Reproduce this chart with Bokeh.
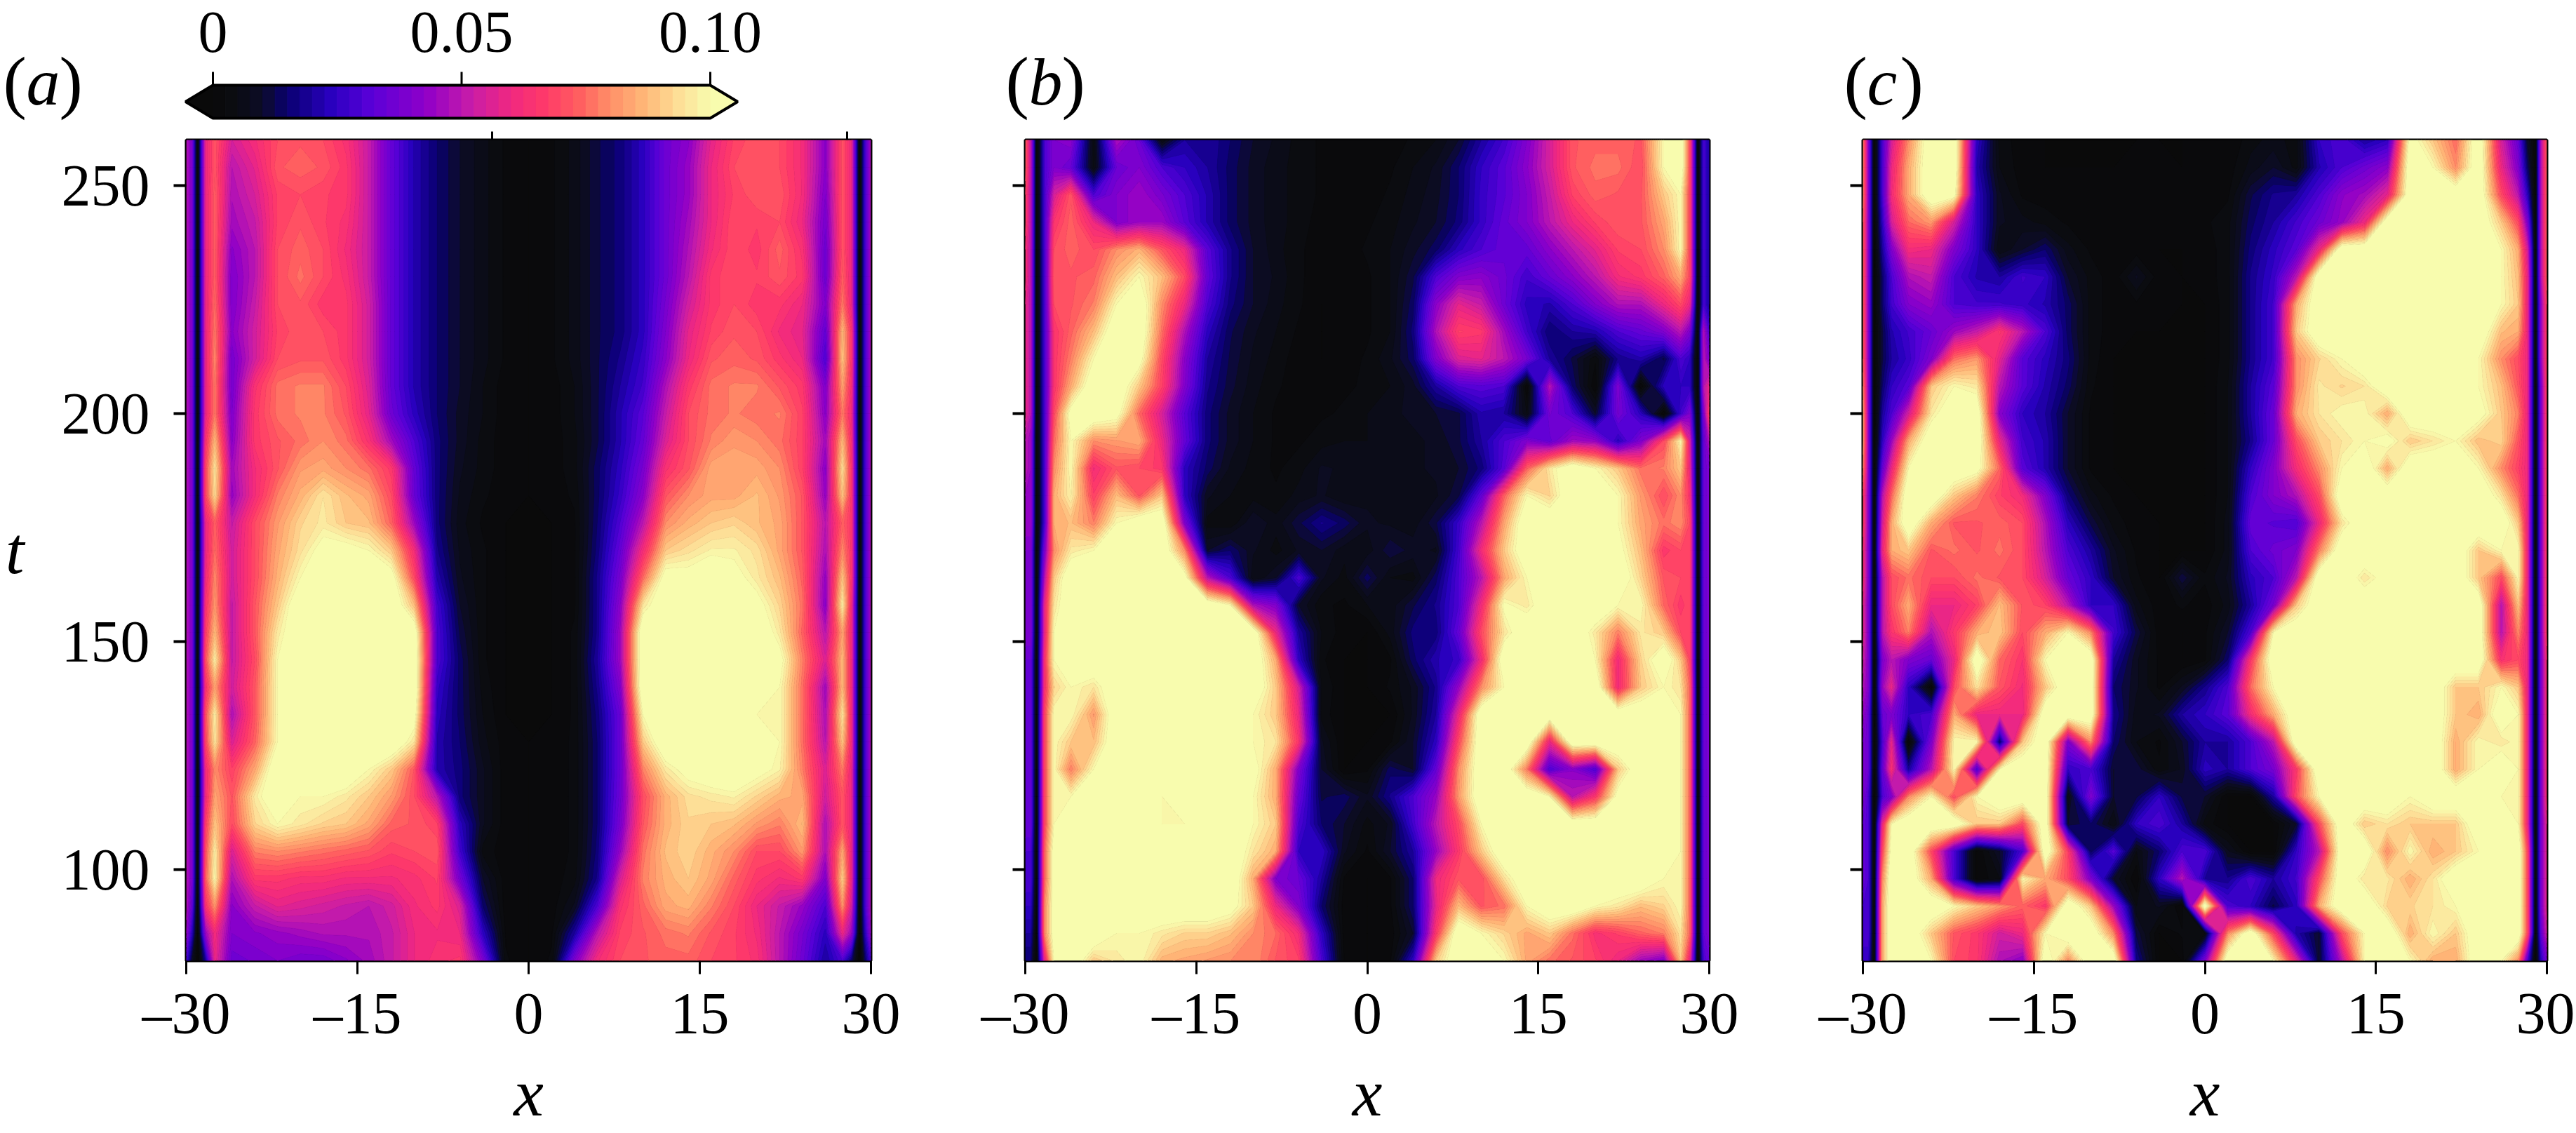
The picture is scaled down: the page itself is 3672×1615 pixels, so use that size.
from bokeh.plotting import figure
from bokeh.layouts import column, row
from bokeh.models import Range1d, FixedTicker, LinearAxis, Label
from bokeh.core.properties import value
from bokeh.embed import file_html
from bokeh.resources import INLINE
import numpy as np

x_grid = [-30,-29.5,-29,-28.3,-27.5,-26,-24,-22,-20,-18,-16,-14,-12,-10,-8,-6,-4,-2,0,2,4,6,8,10,12,14,16,18,20,22,24,26,27.5,28.3,29,29.5,30]
t_grid = [260,254,248,242,236,230,224,218,212,206,200,194,188,182,176,170,164,158,152,146,140,134,128,122,116,110,104,98,92,86,80]
x_ticks = [-30,-15,0,15,30]
x_tick_labels = ["–30","–15","0","15","30"]
t_ticks = [100,150,200,250]
stray_top_ticks = [-3.2,27.9]
cbar_ticks = [0,0.05,0.10]
cbar_tick_labels = ["0","0.05","0.10"]
panel_names = ["a","b","c"]

# values in thousandths
panel_a = [
[50,40,0,60,72,55,62,70,72,70,64,52,34,22,15,10,6,2,0,2,6,12,16,24,36,42,58,68,72,70,62,42,72,60,0,30,50],
[50,40,0,60,72,50,58,72,74,72,66,52,34,22,15,10,6,2,0,2,6,12,16,24,36,44,60,70,72,70,62,42,72,60,0,30,50],
[50,40,0,60,74,48,55,68,70,68,66,52,34,22,15,10,6,2,0,2,6,12,16,24,36,44,60,68,72,72,62,40,72,60,0,30,50],
[50,40,0,60,74,46,52,68,72,68,64,52,34,22,15,10,6,2,0,2,6,12,16,24,36,46,60,70,68,70,60,38,72,60,0,30,50],
[50,40,0,60,74,42,50,70,74,70,62,52,34,22,15,10,6,2,0,2,6,12,16,24,36,48,62,70,66,74,64,36,72,60,0,30,50],
[50,40,0,60,74,40,50,70,76,70,64,52,34,22,15,10,6,2,0,2,6,12,16,24,36,50,66,70,68,72,66,36,74,60,0,30,50],
[50,40,0,60,76,40,52,70,72,66,66,54,34,22,15,10,6,2,0,2,6,12,16,24,38,54,66,70,66,66,60,40,78,60,0,30,50],
[50,40,0,60,78,42,54,68,72,70,66,54,34,22,15,10,6,2,0,2,6,12,16,24,40,58,68,72,70,62,58,34,88,66,0,30,50],
[50,40,0,60,80,38,54,70,72,72,66,54,34,22,15,10,6,2,0,2,6,12,18,26,42,60,72,74,72,66,60,30,90,66,0,30,50],
[50,40,0,60,78,38,64,76,78,78,70,56,34,22,15,10,5,1,0,1,5,12,20,28,48,66,76,78,78,72,66,40,84,64,0,30,50],
[50,40,0,60,78,40,66,76,78,78,72,58,36,24,15,9,5,1,0,1,5,12,22,32,52,70,76,78,76,78,68,42,78,62,0,30,50],
[50,40,0,65,88,42,66,72,76,80,76,64,46,30,16,9,4,1,0,1,4,12,22,34,56,70,78,82,80,76,68,46,88,64,0,30,50],
[50,40,0,70,96,46,62,72,82,84,80,76,66,34,16,8,4,1,0,1,4,14,24,38,64,72,84,84,84,80,68,42,95,66,0,30,50],
[50,40,0,70,94,44,62,78,86,95,88,84,70,35,16,7,3,1,0,1,3,14,26,42,72,80,84,84,88,82,72,44,90,66,0,30,50],
[50,40,0,60,74,52,70,82,92,96,90,88,74,45,16,6,2,0,0,0,2,15,30,50,80,86,90,92,88,84,72,50,74,66,0,30,50],
[50,40,0,60,76,54,70,84,94,104,104,100,90,62,18,7,3,0,0,0,2,16,34,62,90,94,98,98,94,84,72,48,80,66,0,30,50],
[50,40,0,62,80,54,70,86,100,110,110,110,105,70,22,8,3,0,0,0,2,18,38,75,105,104,110,104,96,88,74,44,90,66,0,30,50],
[50,40,0,65,82,52,72,90,110,110,110,110,110,88,28,10,3,0,0,0,2,18,42,95,110,110,110,110,104,92,76,42,98,62,0,30,50],
[50,40,0,68,88,52,72,96,110,110,110,110,110,108,30,12,3,0,0,0,3,18,45,110,110,110,110,110,110,96,74,50,84,62,0,30,50],
[50,40,0,72,98,52,70,100,110,110,110,110,110,110,30,14,3,0,0,0,3,20,45,110,110,110,110,110,110,104,78,56,88,62,0,30,50],
[50,40,0,65,84,54,72,100,110,110,110,110,110,110,26,14,4,0,0,0,3,18,40,110,110,110,110,110,106,100,76,46,88,62,0,30,50],
[50,40,0,72,98,48,72,100,110,110,110,110,110,105,24,14,5,0,0,0,3,16,35,100,110,110,110,110,100,100,76,48,96,62,0,30,50],
[50,40,0,70,96,56,74,100,110,110,110,110,110,95,22,15,6,1,0,1,3,15,35,90,110,110,110,110,104,100,76,50,90,62,0,30,50],
[50,40,0,62,80,68,84,110,110,110,110,100,90,72,22,16,8,1,0,1,3,15,35,78,96,104,108,110,104,98,78,56,78,60,0,30,50],
[50,40,0,62,84,72,96,110,100,100,96,90,82,70,50,16,8,1,0,1,3,15,36,70,86,94,96,98,92,86,84,54,72,60,0,30,50],
[50,40,0,68,90,70,92,100,96,92,90,84,74,72,68,24,8,1,0,1,3,15,38,72,86,92,90,88,82,78,88,48,72,60,0,30,50],
[50,40,0,72,98,56,78,80,78,76,74,72,68,70,72,28,4,1,0,1,3,16,44,76,88,92,86,80,70,70,82,48,85,60,0,30,50],
[50,40,0,74,100,48,66,66,64,64,62,62,62,64,68,38,10,1,0,1,4,18,55,78,86,90,84,74,66,62,66,40,92,60,0,30,50],
[50,35,0,65,82,42,52,58,56,54,52,50,54,62,66,56,15,1,0,1,8,30,64,74,84,86,78,70,60,52,44,30,82,55,0,30,50],
[45,25,0,45,62,40,42,44,46,48,48,48,52,60,62,60,25,2,0,2,20,50,68,72,76,78,72,68,62,50,38,24,60,45,0,25,45],
[30,10,0,20,60,36,38,40,38,38,42,46,52,60,64,66,40,3,0,3,40,62,70,72,74,74,70,68,64,50,36,20,30,15,0,15,30],
]

panel_b = [
[75,50,0,30,40,42,5,48,35,5,20,20,15,10,7,4,2,1,0,1,3,5,10,20,28,40,55,72,74,74,72,100,110,70,0,30,20],
[75,50,0,30,40,35,5,35,40,30,25,20,14,9,6,4,2,1,1,2,5,8,15,25,32,42,55,72,76,76,70,100,110,70,0,30,20],
[70,50,0,30,55,72,30,40,45,38,30,22,14,9,6,4,2,1,1,3,6,9,15,26,32,40,52,68,74,72,72,90,100,70,0,30,20],
[70,50,0,30,65,74,60,40,45,45,32,22,14,9,6,4,1,1,2,4,7,10,16,26,34,40,50,60,68,72,72,84,100,70,0,30,20],
[65,50,0,30,70,74,70,80,86,72,60,32,18,10,6,3,1,1,3,5,9,14,24,30,34,34,42,50,58,68,70,80,100,70,0,30,20],
[65,50,0,30,72,72,74,88,100,88,70,34,18,10,7,3,1,1,2,5,12,30,40,42,36,28,35,42,50,62,66,74,85,70,0,30,20],
[60,50,0,30,70,72,78,100,110,80,60,30,16,10,6,3,0,1,2,5,14,42,58,52,36,24,22,30,40,48,48,60,70,60,0,30,20],
[60,50,0,30,65,74,88,110,110,76,48,24,13,8,5,2,0,1,2,5,16,48,68,66,46,28,15,20,22,30,34,40,50,40,0,50,30],
[60,50,0,30,65,78,100,110,105,70,42,20,12,7,4,1,0,1,3,7,14,40,56,58,50,38,20,12,3,18,22,12,30,25,0,50,40],
[60,50,0,30,65,85,110,110,90,68,40,18,11,6,3,1,1,2,3,5,9,20,30,32,30,0,50,15,0,40,0,24,25,25,0,50,60],
[60,50,0,30,70,105,110,105,75,55,32,16,9,5,2,1,2,3,5,7,8,10,12,22,20,5,38,30,10,38,24,0,28,40,0,40,70],
[50,45,0,30,75,100,80,82,85,60,34,16,9,5,2,2,4,5,5,6,7,8,12,20,30,40,34,46,44,24,40,70,100,56,0,35,50],
[50,45,0,30,80,100,62,72,70,66,24,14,7,4,2,4,8,7,6,6,7,8,10,16,32,74,96,110,100,90,76,78,90,60,0,35,40],
[45,45,0,30,85,98,68,88,72,90,25,8,5,4,3,6,8,5,7,6,5,7,12,34,74,100,92,110,110,100,82,70,80,65,0,35,40],
[45,45,0,30,85,88,78,100,110,110,40,4,3,10,6,12,18,14,8,7,6,12,26,50,84,110,110,110,110,100,84,76,80,70,0,35,40],
[40,40,0,40,80,96,100,110,110,110,80,10,15,8,4,8,10,6,6,12,9,7,28,62,90,110,110,110,110,104,88,66,70,70,0,35,40],
[40,40,0,50,90,110,110,110,110,110,105,50,30,5,10,30,8,4,14,5,4,14,30,50,84,100,110,110,110,110,92,72,70,70,0,35,40],
[40,40,0,60,95,110,110,110,110,110,110,110,100,48,40,10,3,2,5,6,12,18,30,62,102,96,110,110,110,100,100,75,66,70,0,35,40],
[40,40,0,60,100,110,110,110,110,110,110,110,110,110,60,20,5,1,0,6,16,16,34,70,95,110,110,110,96,78,96,90,70,70,0,35,40],
[35,35,0,65,100,110,110,110,110,110,110,110,110,110,85,25,3,0,0,2,14,22,26,62,110,110,110,110,100,62,92,110,90,70,0,35,40],
[35,35,0,65,92,100,95,110,110,110,110,110,110,110,90,55,5,0,0,3,8,18,44,80,100,110,110,110,110,62,90,100,95,75,0,35,40],
[35,35,0,70,100,100,82,110,110,110,110,110,110,100,90,60,4,0,0,0,8,20,60,110,110,110,110,110,110,110,110,110,100,75,0,35,40],
[35,35,0,70,100,90,88,110,110,110,110,110,110,100,95,65,8,0,0,2,10,24,70,110,110,110,60,110,110,110,110,110,100,75,0,35,40],
[35,35,0,70,100,78,100,110,110,110,110,110,110,105,85,40,10,0,2,14,10,34,80,110,110,78,30,42,30,90,110,110,100,75,0,35,40],
[35,35,0,70,100,100,110,110,110,100,108,110,110,100,85,35,12,14,8,18,30,44,82,110,110,110,100,50,66,105,110,110,100,75,0,35,40],
[35,35,0,70,100,110,110,110,110,100,100,110,110,100,90,30,15,10,4,8,28,50,70,100,110,110,110,110,110,110,110,110,100,75,0,35,40],
[30,30,0,75,105,110,110,110,110,110,110,110,110,95,85,25,25,8,2,10,20,44,66,90,110,110,110,110,110,110,110,110,100,75,0,35,40],
[30,30,0,75,105,110,110,110,110,110,110,110,110,85,40,35,20,2,0,2,15,60,72,70,94,110,110,110,110,110,110,100,100,75,0,35,40],
[25,25,0,80,105,110,110,110,110,110,110,110,105,90,60,40,15,1,0,2,15,58,88,72,76,100,110,110,100,96,88,92,100,75,0,35,40],
[20,20,0,80,105,110,110,100,100,96,92,92,88,80,75,62,25,1,0,1,10,66,110,100,92,84,90,76,64,68,74,78,95,75,0,35,40],
[15,15,0,60,100,110,90,96,100,86,84,82,80,80,72,68,30,2,0,2,25,90,110,110,100,84,76,72,68,60,46,40,90,60,0,30,35],
]

panel_c = [
[80,40,0,30,55,80,110,110,25,4,1,0,0,0,0,0,0,0,1,0,4,6,4,25,30,20,25,105,90,75,110,55,35,10,0,50,75],
[80,40,0,30,60,85,110,110,22,5,1,0,0,0,0,1,1,0,1,1,6,10,4,22,30,36,42,110,100,80,110,60,40,15,0,50,75],
[80,40,0,30,62,85,110,105,25,8,2,1,1,1,1,1,1,1,1,2,12,18,20,30,42,46,58,110,110,110,110,70,50,25,0,50,75],
[75,40,0,25,55,75,82,55,25,8,6,4,2,1,1,1,1,1,2,4,14,20,28,36,44,60,110,110,110,110,110,90,70,40,0,50,75],
[75,40,0,20,40,62,60,40,25,5,10,15,6,2,1,1,0,0,1,4,16,24,32,60,110,110,110,110,110,110,110,100,85,55,0,50,75],
[75,40,0,15,30,48,52,30,22,20,28,25,10,4,1,8,1,0,1,4,18,26,50,110,110,110,110,110,110,110,110,100,88,60,0,50,75],
[75,40,0,15,28,40,44,30,28,28,26,22,14,4,1,2,1,0,0,4,18,28,85,110,110,110,110,110,110,110,110,100,90,60,0,45,70],
[75,40,0,12,22,28,35,45,52,66,50,30,14,4,1,0,0,0,0,4,18,28,90,110,110,110,110,110,110,110,110,88,85,60,0,45,70],
[75,40,0,12,20,26,40,76,82,58,32,24,16,4,0,0,0,0,0,4,18,28,80,92,100,110,110,110,110,110,100,80,70,60,0,45,70],
[80,40,0,15,25,32,90,100,96,50,32,22,14,3,0,0,0,0,0,5,20,32,80,96,92,95,110,110,110,110,100,88,72,60,0,40,70],
[85,40,0,20,30,55,96,110,110,42,25,20,10,2,0,0,0,0,0,5,20,35,85,95,100,100,85,110,110,105,105,90,78,60,0,40,70],
[85,40,0,25,45,85,110,110,110,60,28,22,10,2,0,0,0,0,0,5,18,35,70,90,95,100,105,90,95,100,88,92,72,60,0,40,70],
[80,40,0,35,60,100,110,110,105,75,32,22,10,2,0,0,0,0,0,5,25,40,62,80,100,110,85,110,110,110,100,80,68,60,0,40,70],
[70,40,0,50,75,110,110,90,78,68,62,40,16,6,2,0,0,0,0,5,30,40,48,70,110,110,110,110,110,110,110,95,76,60,0,40,70],
[70,40,0,55,85,110,85,72,72,74,70,48,24,12,4,1,0,0,0,6,34,32,30,60,95,110,110,110,110,110,110,110,90,60,0,40,70],
[65,40,0,60,85,90,72,76,72,76,70,50,30,20,8,2,0,0,0,6,30,36,40,78,110,110,110,110,110,110,90,100,100,60,0,40,70],
[65,40,0,50,70,76,70,70,76,72,70,55,35,25,10,3,0,12,3,8,24,30,50,110,110,95,105,110,110,110,90,70,100,60,0,40,70],
[60,40,0,50,70,85,60,60,68,88,72,68,50,25,25,6,1,3,1,6,20,38,90,110,110,110,110,110,110,110,110,50,90,60,0,40,70],
[60,40,0,50,65,78,48,66,85,90,70,85,100,80,28,12,1,0,2,10,30,100,110,110,110,110,110,110,110,110,110,50,80,60,0,40,70],
[55,40,0,40,50,40,35,60,110,75,65,100,110,110,20,8,2,0,2,15,66,110,110,110,110,110,110,110,110,110,110,64,70,60,0,40,65],
[50,40,0,45,60,25,0,70,95,72,62,90,110,110,15,8,2,8,18,30,75,100,110,110,110,110,110,110,110,90,90,100,90,60,0,40,65],
[45,35,0,35,40,25,30,85,60,60,60,110,110,110,18,6,8,20,25,32,62,85,110,110,110,110,110,110,110,90,85,110,100,60,0,40,65],
[40,35,0,30,60,0,40,100,100,15,90,110,40,80,15,5,2,10,20,20,30,50,110,110,110,110,110,110,110,85,100,95,100,60,0,40,65],
[40,35,0,35,65,20,50,100,30,100,110,110,25,30,10,12,3,8,24,20,30,38,66,110,110,110,110,110,110,85,100,110,100,60,0,40,65],
[40,30,0,30,40,80,100,70,100,110,110,110,5,40,10,12,25,12,10,0,0,20,70,100,110,110,110,100,110,110,110,100,100,60,0,40,65],
[35,30,0,60,100,110,110,110,90,90,70,110,10,15,5,25,30,20,4,0,0,0,10,70,110,90,95,90,90,90,110,110,100,60,0,40,60],
[35,30,0,70,105,110,70,30,0,10,30,110,68,14,32,5,15,30,30,8,0,0,25,50,110,110,80,100,85,90,100,110,110,70,0,40,60],
[35,30,0,80,110,110,85,30,0,5,100,85,70,40,10,0,25,50,20,18,30,20,28,70,110,95,96,85,95,110,105,110,110,70,0,40,60],
[30,30,0,85,110,110,110,100,90,82,74,66,110,90,45,5,8,0,110,30,25,12,24,85,110,110,92,92,95,100,110,110,110,70,0,40,60],
[30,30,0,85,110,110,90,72,66,54,60,100,110,110,80,12,0,3,5,80,110,70,22,10,70,100,110,85,100,90,110,110,110,70,0,35,55],
[25,25,0,85,110,110,100,70,66,48,42,110,80,110,110,18,0,0,40,110,110,100,60,10,50,100,110,100,85,85,110,100,80,30,0,25,40],
]

FONT = "Liberation Serif"
TICK_PX = "84px"

anchor_v = [0, 5, 10, 15, 24, 32, 43, 52, 60, 67, 74, 80, 87, 94, 100]
anchor_c = ["#0a0a0a", "#0b0c12", "#0c0c28", "#0a0070", "#2a00c0", "#5a00d8", "#9000c8", "#c81ca8",
            "#f02880", "#ff3a68", "#ff6060", "#ff9068", "#ffb878", "#fde098", "#f8fcae"]

def rgb(h):
    return [int(h[i:i+2], 16) for i in (1, 3, 5)]
anchor_rgb = np.array([rgb(c) for c in anchor_c], float)

def colour_at(v):
    return "#%02x%02x%02x" % tuple(int(round(np.interp(v, anchor_v, anchor_rgb[:, k]))) for k in range(3))

edges = np.arange(0, 100.01, 2.5)
bar_colours = [colour_at((a + b) / 2) for a, b in zip(edges[:-1], edges[1:])]
levels = [-10.0] + list(edges) + [200.0]
band_colours = [anchor_c[0]] + bar_colours + [anchor_c[-1]]
line_colours = [anchor_c[0]] + band_colours[:-1] + [anchor_c[-1]]

# top strip: colour bar and panel letters
TOP_H = 178
TEXT_SHIFT_TICK = 25
TEXT_SHIFT_LETTER = 33
def px_x(px):
    return (px - 303) / 7090.0
def px_y(py):
    return (168 - py) / 47.0

top = figure(width=3670, height=TOP_H, toolbar_location=None, output_backend="svg",
             x_range=Range1d(px_x(0), px_x(3670)), y_range=Range1d(px_y(178), px_y(0)),
             x_axis_type=None, y_axis_type=None, min_border=0, outline_line_color=None)
top.grid.visible = False
top.quad(left=list(edges[:-1] / 1000), right=list(edges[1:] / 1000), bottom=0, top=1,
         fill_color=bar_colours, line_color=bar_colours, line_width=1)
ext = 0.0055
lo, hi = cbar_ticks[0], cbar_ticks[-1]
top.patch([lo, lo - ext, lo], [0, 0.5, 1], fill_color=anchor_c[0], line_color=None)
top.patch([hi, hi + ext, hi], [0, 0.5, 1], fill_color=anchor_c[-1], line_color=None)
top.patch([lo, hi, hi + ext, hi, lo, lo - ext], [0, 0, 0.5, 1, 1, 0.5],
          fill_color=None, line_color="black", line_width=4)
top.segment(x0=cbar_ticks, x1=cbar_ticks, y0=[1] * 3, y1=[px_y(102)] * 3, line_color="black", line_width=3)
for tick, lab in zip(cbar_ticks, cbar_tick_labels):
    top.add_layout(Label(x=tick, y=px_y(70 - TEXT_SHIFT_TICK), text=lab, text_font=FONT, text_font_size=TICK_PX,
                         text_align="center", text_baseline="alphabetic", text_color="black"))
for name, px in zip(panel_names, [4, 1433, 2628]):
    yy = [px_y(149 - TEXT_SHIFT_LETTER)]
    top.text(x=[px_x(px)], y=yy, text=["("], text_font=value(FONT), text_font_size="100px",
             text_baseline="alphabetic", text_align="left", text_color="black")
    top.text(x=[px_x(px + 33)], y=yy, text=[name], text_font=value(FONT), text_font_size="96px",
             text_font_style="italic", text_baseline="alphabetic", text_align="left", text_color="black")
    top.text(x=[px_x(px + 80)], y=yy, text=[")"], text_font=value(FONT), text_font_size="100px",
             text_baseline="alphabetic", text_align="left", text_color="black")

def panel(data, width, left, right, labels):
    p = figure(width=width, height=1435, toolbar_location=None, output_backend="svg",
               x_range=Range1d(-30, 30), y_range=Range1d(80, 260),
               min_border_left=left, min_border_right=right, min_border_top=21, min_border_bottom=244,
               outline_line_color="black", outline_line_width=4, background_fill_color=anchor_c[0])
    p.grid.visible = False
    z = np.array(data, float)[::-1]
    p.contour(x_grid, t_grid[::-1], z, levels, fill_color=band_colours, line_color=line_colours, line_width=1)
    ax = p.xaxis[0]
    ax.ticker = FixedTicker(ticks=x_ticks)
    ax.major_label_overrides = {k: v for k, v in zip(x_ticks, x_tick_labels)}
    ax.major_label_text_font = FONT
    ax.major_label_text_font_size = TICK_PX
    ax.major_label_standoff = 9
    ax.major_tick_out = 19
    ax.major_tick_in = 0
    ax.minor_tick_line_color = None
    ax.major_tick_line_width = 3
    ax.major_tick_line_color = "black"
    ax.axis_line_color = None
    ax.axis_label = "x"
    ax.axis_label_text_font = FONT
    ax.axis_label_text_font_style = "italic"
    ax.axis_label_text_font_size = "96px"
    ax.axis_label_text_color = "black"
    ax.major_label_text_color = "black"
    ax.axis_label_standoff = 10
    ay = p.yaxis[0]
    ay.ticker = FixedTicker(ticks=t_ticks)
    ay.major_tick_out = 18
    ay.major_tick_in = 0
    ay.minor_tick_line_color = None
    ay.major_tick_line_width = 4
    ay.major_tick_line_color = "black"
    ay.axis_line_color = None
    ay.major_label_text_font = FONT
    ay.major_label_text_font_size = TICK_PX
    ay.major_label_text_color = "black"
    ay.major_label_standoff = 34
    if labels:
        ay.axis_label = "t"
        ay.axis_label_orientation = "horizontal"
        ay.axis_label_text_font = FONT
        ay.axis_label_text_font_style = "italic"
        ay.axis_label_text_font_size = "96px"
        ay.axis_label_text_color = "black"
        ay.axis_label_standoff = 50
    else:
        ay.major_label_text_color = None
        ay.major_label_text_font_size = "1px"
    return p

pa = panel(panel_a, 1360, 265, 119, True)
pb = panel(panel_b, 1200, 101, 124, False)
pc = panel(panel_c, 1110, 95, 40, False)

stray = LinearAxis(ticker=FixedTicker(ticks=stray_top_ticks), axis_line_color=None, major_tick_out=12, major_tick_in=0,
                   minor_tick_line_color=None, major_tick_line_width=3, major_label_text_font_size="1px",
                   major_label_text_color=None, major_tick_line_color="black")
pa.add_layout(stray, "above")

page = column(top, row(pa, pb, pc, spacing=0), spacing=0)
open("out.html", "w").write(file_html(page, INLINE))
